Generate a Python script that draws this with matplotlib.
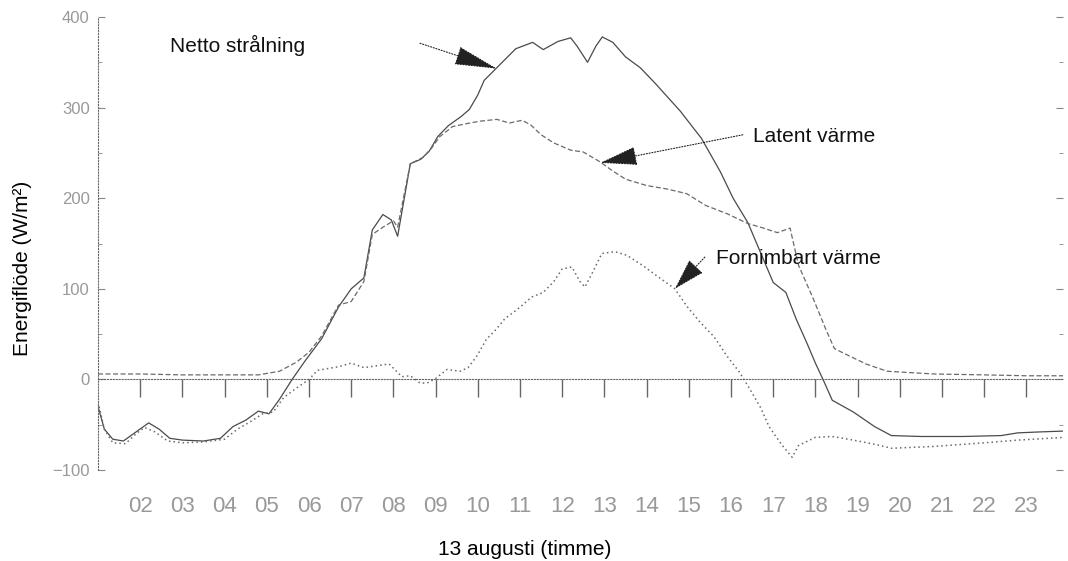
import numpy as np
import matplotlib
matplotlib.use("Agg")
import matplotlib.pyplot as plt
from matplotlib.ticker import MultipleLocator

plt.rcParams['font.family'] = ['Liberation Sans', 'DejaVu Sans']

# hour of day (13 August) and flux in W/m2
netto_h = [1.0, 1.15, 1.35, 1.6, 1.9, 2.2, 2.45, 2.7, 3.0, 3.5, 3.9, 4.2, 4.5, 4.8, 5.05, 5.3,
           5.6, 5.9, 6.3, 6.7, 7.0, 7.3, 7.5, 7.75, 7.95, 8.1, 8.4, 8.65, 8.85, 9.05, 9.3, 9.6,
           9.8, 10.0, 10.15, 10.45, 10.9, 11.3, 11.55, 11.9, 12.2, 12.35, 12.6, 12.8, 12.95,
           13.2, 13.5, 13.85, 14.2, 14.8, 15.3, 15.75, 16.05, 16.4, 16.7, 17.0, 17.3, 17.55,
           17.8, 18.0, 18.2, 18.4, 18.9, 19.4, 19.8, 20.5, 21.5, 22.4, 22.8, 23.3, 23.9]
netto_v = [-30, -55, -66, -68, -58, -48, -55, -65, -67, -68, -65, -52, -45, -35, -38, -22,
           0, 20, 45, 80, 100, 112, 165, 182, 176, 158, 238, 243, 252, 268, 280, 290,
           298, 314, 330, 344, 365, 372, 364, 373, 377, 368, 350, 368, 378,
           372, 356, 344, 327, 296, 266, 229, 200, 173, 140, 107, 96, 66,
           40, 18, -2, -23, -36, -52, -62, -63, -63, -62, -59, -58, -57]

latent_h = [1.0, 2.0, 3.0, 4.0, 4.8, 5.3, 5.7, 6.0, 6.3, 6.7, 7.0, 7.3, 7.5, 7.75, 8.0, 8.1,
            8.4, 8.7, 8.9, 9.1, 9.4, 9.7, 10.05, 10.45, 10.75, 11.05, 11.25, 11.5, 11.8,
            12.2, 12.5, 12.9, 13.2, 13.5, 14.0, 14.5, 14.95, 15.4, 15.9, 16.4, 16.7, 17.1,
            17.4, 17.6, 17.95, 18.25, 18.45, 18.8, 19.2, 19.7, 20.8, 22.0, 23.0, 23.9]
latent_v = [6, 6, 5, 5, 5, 9, 19, 30, 48, 82, 86, 108, 160, 168, 175, 168,
            238, 245, 255, 268, 279, 282, 285, 287, 283, 286, 281, 270, 261,
            253, 251, 240, 230, 221, 214, 210, 205, 192, 183, 172, 168, 162,
            167, 126, 89, 55, 34, 26, 17, 9, 6, 5, 4, 4]

sens_h = [1.0, 1.15, 1.35, 1.65, 1.9, 2.1, 2.35, 2.65, 3.0, 3.5, 4.0, 4.3, 4.6, 4.9, 5.15,
          5.4, 5.75, 6.0, 6.2, 6.7, 7.0, 7.3, 7.6, 7.9, 8.2, 8.4, 8.63, 8.8, 9.0, 9.27, 9.58,
          9.77, 9.98, 10.2, 10.45, 10.64, 10.93, 11.28, 11.55, 11.8, 12.0, 12.23, 12.42,
          12.54, 12.73, 12.94, 13.25, 13.53, 13.9, 14.25, 14.67, 14.95, 15.27, 15.6, 15.9,
          16.2, 16.45, 16.7, 16.9, 17.2, 17.45, 17.6, 18.0, 18.4, 18.9, 19.45, 19.8, 20.8,
          22.0, 22.8, 23.9]
sens_v = [-25, -55, -70, -71, -60, -53, -58, -68, -70, -69, -66, -55, -47, -38, -36,
          -20, -8, 0, 10, 14, 18, 13, 15, 17, 3, 4, -4, -4, 1, 11, 9,
          13, 26, 44, 56, 67, 77, 91, 96, 108, 122, 124, 108,
          102, 119, 139, 141, 137, 126, 114, 100, 81, 63, 47, 26,
          8, -11, -31, -52, -72, -86, -73, -64, -63, -67, -72, -76, -74,
          -70, -67, -64]

hour_ticks = list(range(2, 24))
hour_labels = ['%02d' % h for h in hour_ticks]

fig = plt.figure(figsize=(10.68, 5.61), dpi=100)
ax = fig.add_axes([0.0918, 0.1622, 0.9036, 0.8075])

ax.plot(netto_h, netto_v, color='#4a4a4a', lw=0.9)
ax.plot(latent_h, latent_v, color='#6a6a6a', lw=0.9, ls=(0, (4, 2)))
ax.plot(sens_h, sens_v, color='#6a6a6a', lw=1.1, ls=(0, (1, 2)))

ax.set_xlim(1, 23.87)
ax.set_ylim(-100, 400)

# spines: dotted left axis, x axis sits on the zero line
for s in ['top', 'right']:
    ax.spines[s].set_visible(False)
ax.spines['left'].set_linestyle(':')
ax.spines['left'].set_color('#666666')
ax.spines['bottom'].set_position(('data', 0))
ax.spines['bottom'].set_linestyle(':')
ax.spines['bottom'].set_color('#666666')

ax.set_xticks(hour_ticks)
ax.set_xticklabels(hour_labels)
ax.tick_params(axis='x', direction='out', length=13, width=1, color='#666666',
               pad=71, labelsize=16, labelcolor='#999999')
ax.yaxis.set_major_locator(MultipleLocator(100))
ax.yaxis.set_minor_locator(MultipleLocator(50))
ax.tick_params(axis='y', which='both', direction='in', right=True, color='#888888',
               labelsize=12, labelcolor='#999999', pad=6)
ax.tick_params(axis='y', which='major', length=5)
ax.tick_params(axis='y', which='minor', length=3)

fig.text(0.0206, 0.522, 'Energiflöde (W/m²)', rotation=90, ha='center', va='center', fontsize=15)
fig.text(0.4916, 0.02, '13 augusti (timme)', ha='center', va='center', fontsize=15)

# labels with arrows: (text pos, tail start, tip, head length px)
labels = ['Netto strålning', 'Latent värme', 'Fornimbart värme']
text_pos = [(2.71, 369), (16.52, 268), (15.64, 133)]
tail_pos = [(8.63, 371), (16.28, 270), (15.38, 135)]
tip_pos = [(10.45, 343), (12.9, 239), (14.67, 100)]
head_len = [38, 33, 28]

for lab, tp, tl, tip, hl in zip(labels, text_pos, tail_pos, tip_pos, head_len):
    ax.text(tp[0], tp[1], lab, ha='left', va='center', fontsize=15, color='#111111')
    hlen = hl / 13.89
    ax.annotate('', xy=tip, xytext=tl,
                arrowprops=dict(arrowstyle='-|>,head_length=%.2f,head_width=0.6' % hlen,
                                color='#222222', lw=0.8, ls=(0, (1, 1.5)),
                                shrinkA=0, shrinkB=0, mutation_scale=10))

plt.savefig('out.png', dpi=100)
